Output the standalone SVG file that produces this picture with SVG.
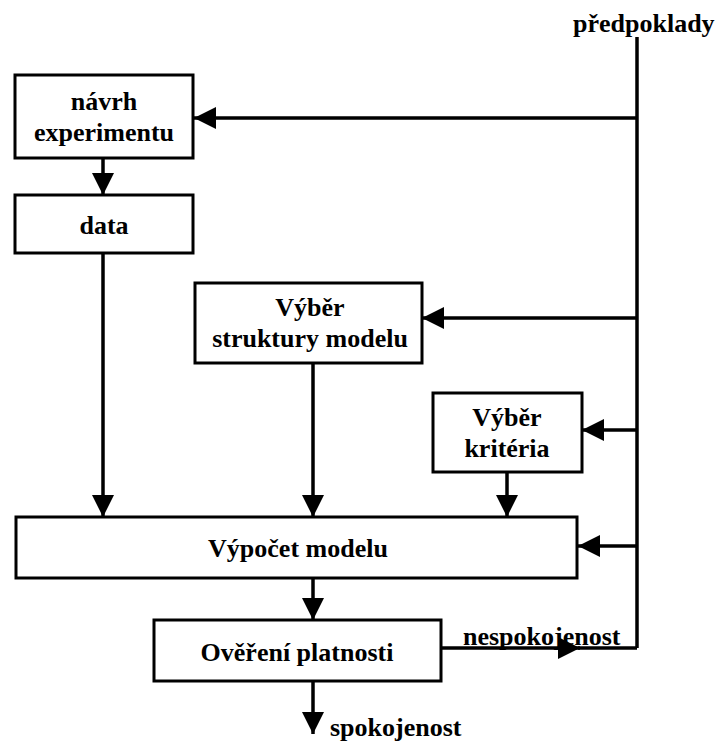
<svg xmlns="http://www.w3.org/2000/svg" width="717" height="742" viewBox="0 0 717 742">
<style>
  .box { fill: #fff; stroke: #000; stroke-width: 3; }
  .ln { fill: none; stroke: #000; stroke-width: 3.5; }
  .t { font-family: "Liberation Serif", "DejaVu Serif", serif; font-weight: bold; font-size: 26px; fill: #000; text-anchor: middle; }
  .tl { font-family: "Liberation Serif", "DejaVu Serif", serif; font-weight: bold; font-size: 26px; fill: #000; }
</style>
<defs>
  <marker id="ah" viewBox="0 0 22 22" refX="22" refY="11" markerWidth="22" markerHeight="22" markerUnits="userSpaceOnUse" orient="auto">
    <path d="M0,0 L22,11 L0,22 z" fill="#000"/>
  </marker>
</defs>
<rect width="717" height="742" fill="#fff"/>

<g id="connectors">
  <path class="ln" d="M637,37 V648"/>
  <path class="ln" d="M637,118 H194" marker-end="url(#ah)"/>
  <path class="ln" d="M637,318 H422" marker-end="url(#ah)"/>
  <path class="ln" d="M637,430 H582" marker-end="url(#ah)"/>
  <path class="ln" d="M637,546 H578" marker-end="url(#ah)"/>
  <path class="ln" d="M103,158 V195" marker-end="url(#ah)"/>
  <path class="ln" d="M103,253 V517" marker-end="url(#ah)"/>
  <path class="ln" d="M313,363 V517" marker-end="url(#ah)"/>
  <path class="ln" d="M507,472 V517" marker-end="url(#ah)"/>
  <path class="ln" d="M313,578 V620" marker-end="url(#ah)"/>
  <path class="ln" d="M313,681 V734" marker-end="url(#ah)"/>
  <path class="ln" d="M441,648 H580" marker-end="url(#ah)"/>
  <path class="ln" d="M578,648 H637"/>
</g>

<g id="navrh">
  <rect class="box" x="15" y="75" width="178" height="83"/>
  <text class="t" x="104" y="110">návrh</text>
  <text class="t" x="104" y="141">experimentu</text>
</g>
<g id="data">
  <rect class="box" x="15" y="195" width="178" height="58"/>
  <text class="t" x="104" y="234">data</text>
</g>
<g id="struktura">
  <rect class="box" x="195" y="283" width="227" height="80"/>
  <text class="t" x="310" y="316">Výběr</text>
  <text class="t" x="310" y="347">struktury modelu</text>
</g>
<g id="kriterium">
  <rect class="box" x="433" y="393" width="149" height="79"/>
  <text class="t" x="507" y="426">Výběr</text>
  <text class="t" x="507" y="457">kritéria</text>
</g>
<g id="vypocet">
  <rect class="box" x="16" y="517" width="561" height="61"/>
  <text class="t" x="298" y="557">Výpočet modelu</text>
</g>
<g id="overeni">
  <rect class="box" x="154" y="620" width="287" height="61"/>
  <text class="t" x="297" y="661">Ověření platnosti</text>
</g>
<g id="labels">
  <text class="tl" x="573" y="32">předpoklady</text>
  <text class="tl" x="463" y="645">nespokojenost</text>
  <text class="tl" x="330" y="736">spokojenost</text>
</g>
</svg>
